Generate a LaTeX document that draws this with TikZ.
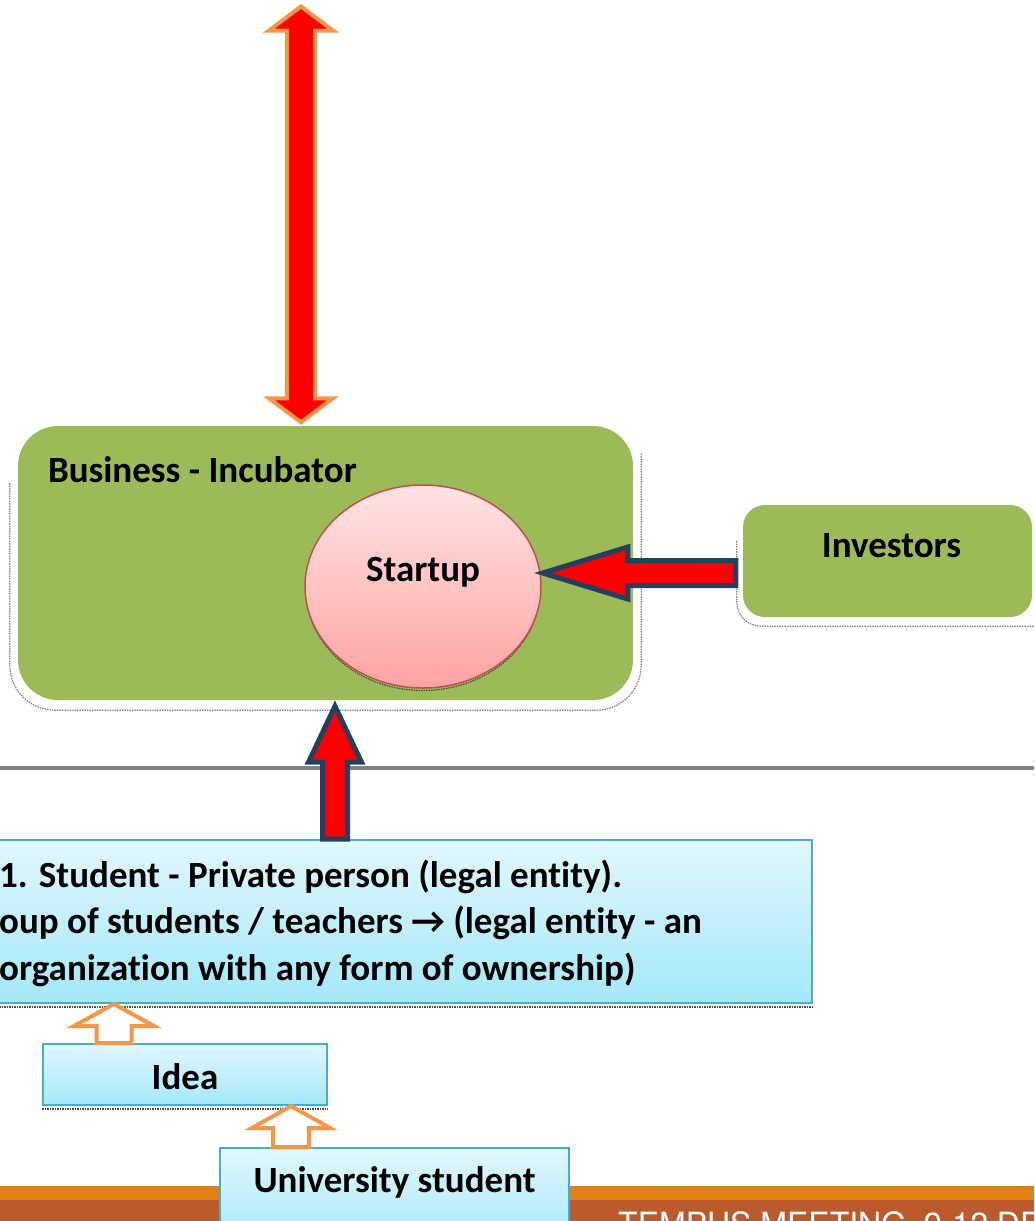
\documentclass[tikz,border=0pt]{standalone}
\usepackage{fontspec}
\setmainfont{Carlito}[Ligatures=NoCommon]
\newfontfamily\bandfont{TeX Gyre Heros}
\usepackage{tikz}
\usetikzlibrary{calc,shapes.geometric,positioning}

\definecolor{incgreen}{HTML}{9BBB59}
\definecolor{arroworange}{HTML}{F79646}
\definecolor{arrownavy}{HTML}{243F60}
\definecolor{boxline}{HTML}{4BACC6}
\definecolor{boxtop}{HTML}{E2F7FD}
\definecolor{boxbot}{HTML}{A3E8FA}
\definecolor{pinktop}{HTML}{FFE4E4}
\definecolor{pinkbot}{HTML}{FFA3A3}
\definecolor{pinkline}{HTML}{C0504D}
\definecolor{bandorange}{HTML}{E38013}
\definecolor{bandrust}{HTML}{BD5A2C}
\definecolor{rulegray}{HTML}{808080}

\begin{document}
\begin{tikzpicture}[x=1pt,y=-1pt,
	every node/.style={font=\bfseries\fontsize{37}{46.5}\selectfont},
	greenbox/.style={fill=incgreen, rounded corners=40pt, inner sep=0pt},
	bluebox/.style={top color=boxtop, bottom color=boxbot, draw=boxline, line width=2pt, inner sep=0pt},
	txt/.style={inner sep=0pt},
	redarrow/.style={fill=red, draw=arroworange, line width=4pt},
	navyarrow/.style={fill=red, draw=arrownavy, line width=5pt},
	hollowarrow/.style={fill=white, draw=arroworange, line width=4pt},
	glow/.style={draw=gray, line width=1.2pt, dash pattern=on 1.5pt off 1pt},
	darkglow/.style={draw=black!70, line width=1.2pt, dash pattern=on 1.5pt off 1pt}]
	% block arrows: style, from, to, half shaft, half head, head length
	\newcommand\BlockArrow[6]{%
		\coordinate (ba-s) at ($(#3)!#6!(#2)$);
		\draw[#1] ($(#2)!#4!90:(#3)$) -- ($(ba-s)!#4!-90:(#2)$) -- ($(ba-s)!#5!-90:(#2)$) -- (#3)
			-- ($(ba-s)!#5!90:(#2)$) -- ($(ba-s)!#4!90:(#2)$) -- ($(#2)!#4!-90:(#3)$) -- cycle;}
	\newcommand\DoubleArrow[6]{%
		\coordinate (da-a) at ($(#2)!#6!(#3)$);
		\coordinate (da-b) at ($(#3)!#6!(#2)$);
		\draw[#1] (#2) -- ($(da-a)!#5!90:(#3)$) -- ($(da-a)!#4!90:(#3)$) -- ($(da-b)!#4!-90:(#2)$)
			-- ($(da-b)!#5!-90:(#2)$) -- (#3) -- ($(da-b)!#5!90:(#2)$) -- ($(da-b)!#4!90:(#2)$)
			-- ($(da-a)!#4!-90:(#3)$) -- ($(da-a)!#5!-90:(#3)$) -- cycle;}

	\useasboundingbox (0,0) rectangle (1034,1221);
	\clip (0,0) rectangle (1034,1221);

	% incubator and investors
	\node[greenbox, minimum width=615pt, minimum height=274pt] (inc) at (325.5,563) {};
	\draw[glow, rounded corners=45pt] ($(inc.west)+(-8,-80)$) |- ($(inc.south)+(0,10)$) -| ($(inc.east)+(8,-110)$);
	\node[txt, anchor=base west] (inclbl) at ($(inc.north west)+(30,57)$) {Business - Incubator};

	\node[greenbox, rounded corners=22pt, minimum width=289pt, minimum height=112pt] (inv) at (887.5,561) {};
	\draw[glow, rounded corners=24pt] ($(inv.west)+(-6,-20)$) |- ($(inv.south east)+(10,9)$);
	\node[txt, anchor=base] (invlbl) at ($(inv.north)+(4,53)$) {Investors};

	\draw[darkglow] (423,589.5) ellipse (117pt and 101pt);
	\node[ellipse, top color=pinktop, bottom color=pinkbot, draw=pinkline, line width=1.5pt,
		minimum width=236pt, minimum height=203pt, inner sep=0pt] (start) at (423,586.5) {};
	\node[txt] (startlbl) at ($(start.center)+(0,-14.5)$) {Startup};

	% dividing rule
	\draw[rulegray, line width=4pt] (0,768) -- (1034,768);

	% applicant boxes
	\fill[bandorange] (0,1186) rectangle (1034,1200);
	\fill[bandrust] (0,1200) rectangle (1034,1221);
	\node[txt, anchor=base west, white, font=\bandfont\fontsize{32}{32}\selectfont] (meeting) at (618,1235) {TEMPUS MEETING, 9-12 DE};

	\node[bluebox, minimum width=832pt, minimum height=163pt] (stud) at (396,921.5) {};
	\draw[darkglow] ($(stud.south west)+(0,3)$) -- ($(stud.south east)+(0,3)$);
	\node[txt, anchor=west, align=left] (studlbl) at ($(stud.west)+(20,1.5)$)
		{1. Student - Private person (legal entity).\\oup of students / teachers \textrightarrow{} (legal entity - an\\organization with any form of ownership)};

	\node[bluebox, minimum width=284pt, minimum height=61pt] (idea) at (185,1074.5) {};
	\draw[darkglow] ($(idea.south west)+(0,3)$) -- ($(idea.south east)+(0,3)$);
	\node[txt, anchor=base] (idealbl) at ($(idea.center)+(0,14.5)$) {Idea};

	\node[bluebox, anchor=north, minimum width=349pt, minimum height=100pt] (uni) at (394.5,1147) {};
	\node[txt, anchor=base] (unilbl) at ($(uni.north)+(0,45)$) {University student};

	% arrows
	\coordinate (topend) at (301,6.5);
	\coordinate (incin) at ($(inc.north)+(-24.5,-3.5)$);
	\DoubleArrow{redarrow}{topend}{incin}{14pt}{32pt}{24pt}

	\coordinate (invout) at ($(inv.west)+(-7,12)$);
	\coordinate (startin) at ($(start.east)+(1,-13.5)$);
	\BlockArrow{navyarrow}{invout}{startin}{12.5pt}{26pt}{85pt}

	\coordinate (studout) at ($(stud.north)+(-61,0)$);
	\coordinate (incbot) at ($(inc.south)+(9.5,6)$);
	\BlockArrow{navyarrow}{studout}{incbot}{12.5pt}{26.5pt}{56pt}

	\coordinate (ideaout) at ($(idea.north west)+(72,0)$);
	\coordinate (ideain) at (ideaout |- stud.south);
	\BlockArrow{hollowarrow}{ideaout}{ideain}{17.5pt}{40pt}{22pt}

	\coordinate (uniout) at ($(uni.north west)+(72,0)$);
	\coordinate (uniin) at (uniout |- idea.south);
	\BlockArrow{hollowarrow}{uniout}{uniin}{18pt}{39pt}{22pt}
\end{tikzpicture}
\end{document}
